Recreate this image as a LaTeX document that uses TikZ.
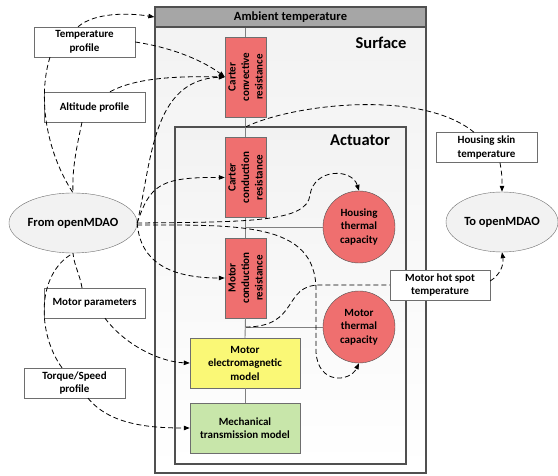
\documentclass[tikz,border=0pt]{standalone}
\usepackage{fontspec}
\setmainfont{Carlito}
\usetikzlibrary{arrows.meta,shapes.geometric}
\definecolor{redf}{RGB}{239,111,111}
\definecolor{yelf}{RGB}{250,248,118}
\definecolor{grnf}{RGB}{200,230,170}
\definecolor{hdrf}{RGB}{166,166,166}
\definecolor{bord}{RGB}{80,80,80}
\definecolor{lbord}{RGB}{110,110,110}
\definecolor{ellf}{RGB}{242,242,242}
\definecolor{linkc}{RGB}{128,128,128}
\tikzset{
  txt/.style={font=\bfseries\fontsize{11}{13.5}\selectfont, align=center},
  res/.style={txt, draw=lbord, fill=redf, rotate=90, minimum width=80, minimum height=41, inner sep=0},
  model/.style={txt, draw=lbord, minimum width=110, minimum height=50, inner sep=0},
  capnode/.style={txt, circle, draw=bord, fill=redf, minimum size=72, inner sep=0},
  databox/.style={txt, draw=lbord, fill=white, minimum width=101, minimum height=30, inner sep=0},
  oval/.style={ellipse, draw=lbord, fill=ellf, font=\bfseries\fontsize{12.5}{15}\selectfont, inner sep=0},
  big/.style={font=\bfseries\fontsize{16.5}{19}\selectfont},
  framebox/.style={draw=bord, line width=1.6pt},
  link/.style={draw=linkc, line width=0.9pt},
  flow/.style={line width=0.8pt, dash pattern=on 5pt off 3pt},
  arr/.style={flow, -{Triangle[length=6pt,width=4.5pt]}}
}
\begin{document}
\begin{tikzpicture}[x=1pt,y=-1pt]
\useasboundingbox (0,0) rectangle (558,476);
% surface and actuator boxes
\shade[top color=ellf, bottom color=white] (155,7) rectangle (426,473);
\draw[framebox] (155,7) rectangle (426,473);
\shade[top color=ellf, bottom color=white] (175,127) rectangle (406,464);
\draw[framebox] (175,127) rectangle (406,464);
\node[draw=bord, line width=1.2pt, fill=hdrf, minimum width=271, minimum height=20, inner sep=0,
  font=\bfseries\fontsize{12.5}{15}\selectfont] (amb) at (290.5,17) {Ambient temperature};
\node[big] (surf) at (381,43) {Surface};
\node[big] (act) at (360,140) {Actuator};

% components
\node[res] (cc) at (245.5,77) {Carter\\convective\\resistance};
\node[res] (cd) at (245.5,177.5) {Carter\\conduction\\resistance};
\node[res] (md) at (245.5,278) {Motor\\conduction\\resistance};
\node[model, fill=yelf] (em) at (245,363) {Motor\\electromagnetic\\model};
\node[model, fill=grnf] (mt) at (245,428) {Mechanical\\transmission model};
\node[capnode] (hc) at (359,227) {Housing\\thermal\\capacity};
\node[capnode] (mc) at (359,327) {Motor\\thermal\\capacity};

\coordinate (j1) at (245.5,127);
\coordinate (j2) at (245.5,227);
\coordinate (j3) at (245.5,327);

% solid links
\draw[link] (cc.east) -- (cc.east |- amb.south);
\draw[link] (cc.west) -- (cd.east);
\draw[link] (cd.west) -- (md.east);
\draw[link] (md.west) -- (em.north);
\draw[link] (em.south) -- (mt.north);
\draw[link] (j2) -- (hc.west);
\draw[link] (j3) -- (mc.west);

% external boxes
\node[databox] (tp) at (84.5,42) {Temperature\\profile};
\node[databox] (ap) at (94.5,107) {Altitude profile};
\node[databox] (mp) at (94.5,303) {Motor parameters};
\node[databox] (ts) at (74.5,383) {Torque/Speed\\profile};
\node[databox] (hs) at (486.5,147.5) {Housing skin\\temperature};
\node[databox, minimum width=100] (hot) at (440,285) {Motor hot spot\\temperature};
\node[oval, minimum width=121, minimum height=60] (from) at (73,223) {From openMDAO};
\node[oval, minimum width=112, minimum height=60] (to) at (502,222) {To openMDAO};

% dashed data flows
\draw[arr] (tp.north -| 78,0) .. controls (95,12) and (130,13) .. (amb.west);
\draw[arr] (tp.east) .. controls (175,48) and (205,62) .. (cc.north);
\draw[arr] (ap.north -| 110,0) .. controls (135,78) and (175,76) .. (cc.north);
\draw[arr] (from.east) .. controls (152,160) and (152,80) .. (cc.north);
\draw[arr] (from.east) .. controls (150,185) and (160,177) .. (cd.north);
\draw[arr] (from.east) .. controls (140,262) and (170,278) .. (md.north);
\draw[arr] (from.east) .. controls (250,222) and (307,222) .. (310,195)
  .. controls (314,168) and (352,168) .. (hc.north);
\draw[arr] ([yshift=-2pt]from.east) .. controls (240,225) and (316,222) .. (316,290)
  -- (316,352) .. controls (318,385) and (350,382) .. (mc.south);
\draw[flow] (j1) .. controls (290,105) and (420,88) .. (hs.north -| 474,0);
\draw[arr] (hs.south -| 500,0) .. controls (502,175) .. (to.north);
\draw[flow] (j3) .. controls (300,327) and (282,285) .. (320,285) -- (hot.west);
\draw[arr] (hot.east |- 0,281) .. controls (500,275) and (504,265) .. (to.south);
\draw[flow] (tp.south -| 50,0) .. controls (38,95) and (45,150) .. (from.north);
\draw[flow] (ap.south -| 82,0) .. controls (76,150) and (72,170) .. (from.north);
\draw[flow] (mp.north -| 82,0) .. controls (80,275) and (74,265) .. (from.south);
\draw[flow] (ts.north -| 62,0) .. controls (38,335) and (35,275) .. (from.south);
\draw[arr] (mp.south -| 105,0) .. controls (125,345) and (160,362) .. (em.west);
\draw[arr] (ts.south -| 88,0) .. controls (110,425) and (150,428) .. (mt.west);
\end{tikzpicture}
\end{document}
